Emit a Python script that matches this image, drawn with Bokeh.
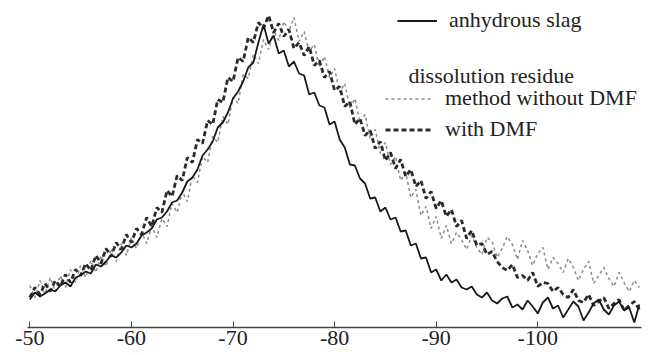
import numpy as np
from bokeh.plotting import figure
from bokeh.models import Range1d, FixedTicker, Legend, LegendItem, Label, ColumnDataSource
from bokeh.embed import file_html
from bokeh.resources import INLINE

# chemical shift grid (ppm), 0.5 ppm steps from -50 to -110
ppm = np.arange(-50.0, -110.25, -0.5)

# intensities (arbitrary units)
anhydrous_slag = [28,35,31,34,38,36,42,45,41,50, 52,56,54,63,61,66,72,70,75,82,
                  80,84,92,95,99,108,110,116,125,127, 135,146,150,158,172,178,186,200,205,215,
                  229,236,246,260,265,285,303,284,292,274, 277,261,266,254,252,233,235,222,220,203,
                  206,188,180,163,162,149,144,129,130,116, 120,108,110,96,97,82,84,69,70,55,
                  58,47,53,45,48,40,38,41,33,30, 35,27,24,29,31,20,23,18,27,21,
                  14,25,30,19,22,10,18,26,21,7, 15,24,28,18,13,22,26,17,20,5,
                  23]
with_dmf = [30,40,33,44,36,47,41,53,45,58, 52,64,57,72,64,79,71,85,78,93,
            85,99,93,110,101,120,115,137,131,152, 147,170,165,188,184,207,203,228,225,250,
            246,270,266,290,285,305,299,312,295,304, 291,298,279,285,272,281,262,267,250,256,
            237,241,221,226,203,209,192,197,179,186, 167,175,159,168,151,158,141,147,129,136,
            119,127,111,118,101,107,89,97,82,84, 73,76,66,60,57,63,50,52,47,55,
            41,45,44,36,40,33,30,38,27,25, 33,22,26,30,19,24,28,17,22,26,
            18]
without_dmf = [42,30,47,33,50,36,52,40,58,45, 62,50,67,55,72,61,79,66,84,72,
               90,79,95,84,101,90,109,101,124,115, 136,126,152,145,171,165,191,185,211,203,
               230,224,253,249,273,264,288,278,297,287, 306,296,310,286,296,276,283,260,271,250,
               259,235,244,220,229,205,213,189,198,174, 185,163,171,147,155,130,138,112,121,99,
               111,89,102,84,95,88,78,92,80,73, 90,86,70,79,91,83,68,87,77,62,
               74,80,58,70,64,55,69,60,47,58, 66,44,52,60,49,41,55,45,36,47,
               40]

tick_values = [-50, -60, -70, -80, -90, -100]
tick_labels = ["-50", "-60", "-70", "-80", "-90", "-100"]
axis_unit = "(ppm)"
legend_single = "anhydrous slag"
legend_group = "dissolution residue"
legend_without = "method without DMF"
legend_with = "with DMF"

src = ColumnDataSource(dict(ppm=ppm, slag=anhydrous_slag, wdmf=with_dmf, wodmf=without_dmf))

FONT = "Liberation Serif, Times New Roman, serif"

p = figure(width=667, height=355, output_backend="svg", toolbar_location=None,
           x_range=Range1d(-49.77, -110.21), y_range=Range1d(0, 327),
           min_border_left=27, min_border_right=26, min_border_top=0, min_border_bottom=28,
           y_axis_location=None)
p.grid.visible = False
p.outline_line_color = None
p.background_fill_color = "white"
p.border_fill_color = "white"

r_wo = p.line("ppm", "wodmf", source=src, line_color="#8a8a8a", line_width=1.5, line_dash="3 3")
r_w = p.line("ppm", "wdmf", source=src, line_color="#2b2b2b", line_width=2.8, line_dash="5 3")
r_s = p.line("ppm", "slag", source=src, line_color="#1a1a1a", line_width=1.8)

ax = p.xaxis[0]
ax.ticker = FixedTicker(ticks=tick_values)
ax.major_label_overrides = {v: t for v, t in zip(tick_values, tick_labels)}
ax.minor_tick_line_color = None
ax.major_tick_in = 6
ax.major_tick_out = 0
ax.major_tick_line_color = "#444"
ax.axis_line_color = "#444"
ax.axis_line_width = 1.6
ax.major_label_text_font = FONT
ax.major_label_text_font_size = "22px"
ax.major_label_text_color = "#222"
ax.major_label_standoff = 3

def make_legend(items, loc, gw):
    return Legend(items=items, location=loc, border_line_color=None, background_fill_alpha=0,
                  padding=0, margin=0, spacing=5, glyph_width=gw, glyph_height=25, label_height=25,
                  label_standoff=12, label_text_font=FONT, label_text_font_size="22px",
                  label_text_color="#222")

leg1 = make_legend([LegendItem(label=legend_single, renderers=[r_s])], (370, 294), 40)
leg2 = make_legend([LegendItem(label=legend_without, renderers=[r_wo]),
                    LegendItem(label=legend_with, renderers=[r_w])], (358, 185), 48)
p.add_layout(leg1)
p.add_layout(leg2)

p.add_layout(Label(x=-87.27, y=252, text=legend_group, text_font=FONT, text_font_size="22px",
                   text_color="#222", text_baseline="middle"))
p.add_layout(Label(x=-104.0, y=-3, text=axis_unit, text_font=FONT, text_font_size="22px",
                   text_color="#222", text_baseline="top"))

open("out.html", "w").write(file_html(p, INLINE))
